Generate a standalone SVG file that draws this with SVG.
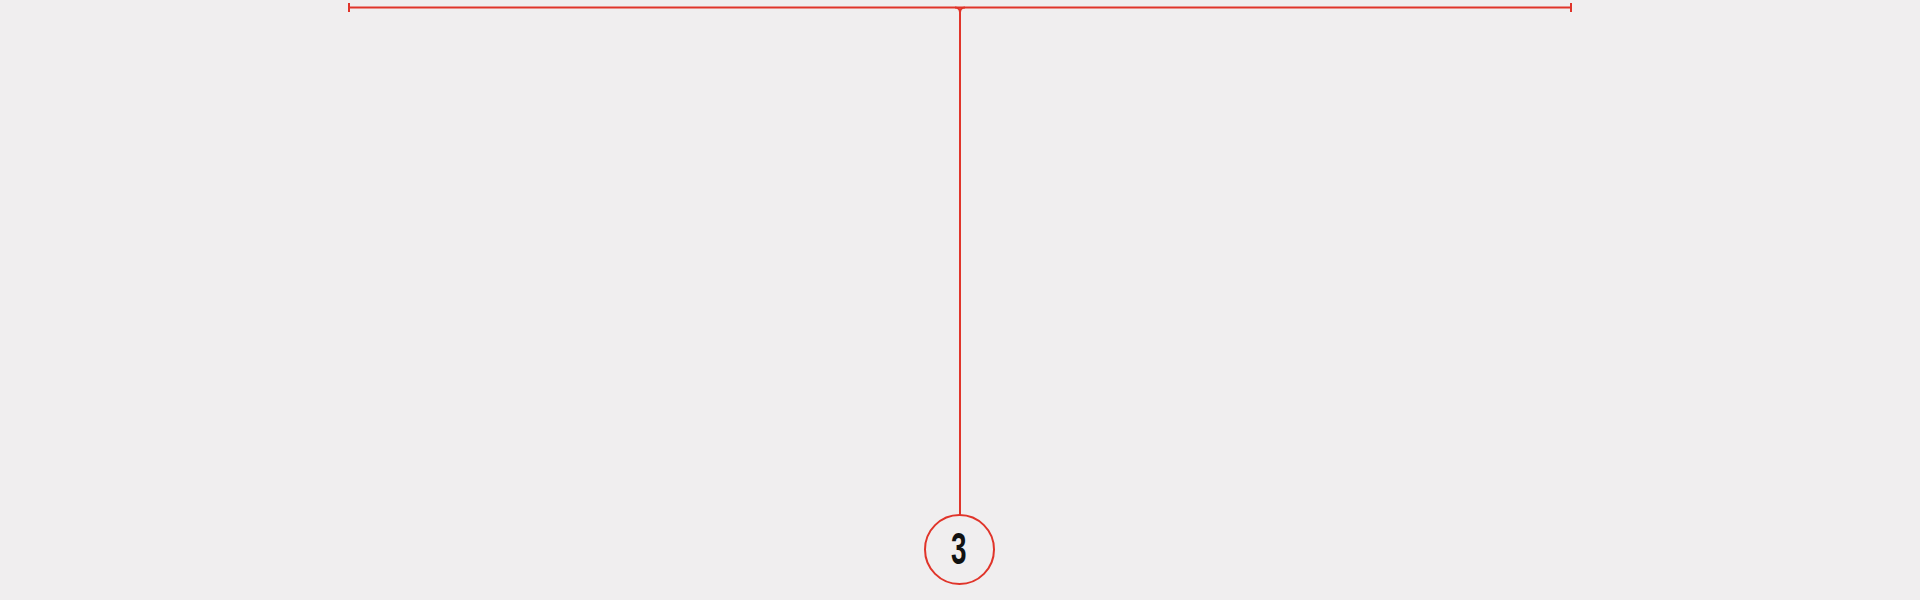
<svg xmlns="http://www.w3.org/2000/svg" width="1920" height="600" viewBox="0 0 1920 600">
<style>
.ln{fill:none;stroke:#e0342a;stroke-width:2}
.num{font-family:"Liberation Sans Narrow","Liberation Sans",sans-serif;font-weight:bold;font-size:45px;fill:#111;text-anchor:middle}
</style>
<rect width="1920" height="600" fill="#f0eeef"/>
<g id="connectors">
<path class="ln" d="M349 7.5H1571"/>
<path class="ln" d="M349 3V12M1571 3V12"/>
<path class="ln" d="M955 7.5Q960 7.5 960 12.5V515M965 7.5Q960 7.5 960 12.5"/>
</g>
<g id="node-3">
<circle class="ln" cx="959.5" cy="549.5" r="34.5"/>
<text class="num" transform="translate(958.7 564) scale(0.62 1)">3</text>
</g>
</svg>
